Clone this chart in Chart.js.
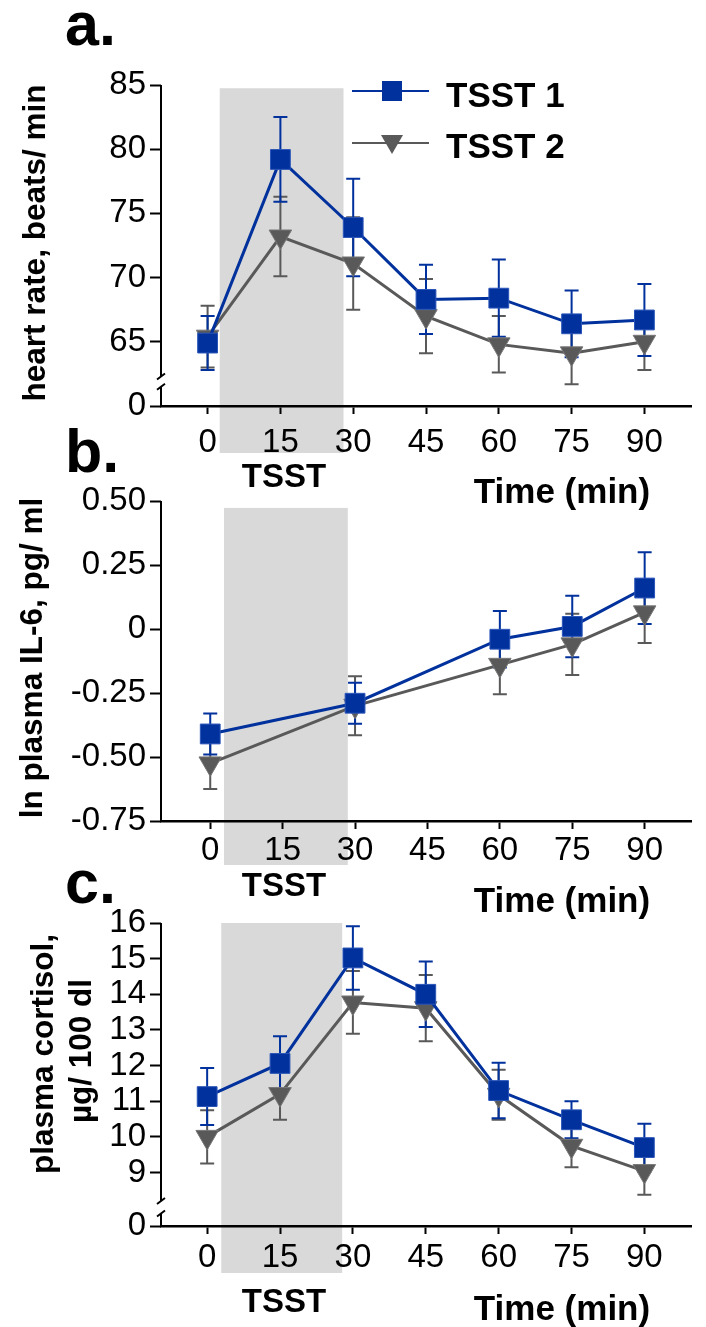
<!DOCTYPE html>
<html>
<head>
<meta charset="utf-8">
<script src="https://cdn.jsdelivr.net/npm/chart.js@4/dist/chart.umd.min.js"></script>
<style>
  body { margin: 0; background: #fff; }
  #wrap { position: relative; width: 706px; height: 1327px; overflow: hidden; }
  canvas { position: absolute; left: 0; }
</style>
</head>
<body>
<div id="wrap">
  <canvas id="chartA" width="706" height="510" style="top:0px"></canvas>
  <canvas id="chartB" width="706" height="525" style="top:400px"></canvas>
  <canvas id="chartC" width="706" height="477" style="top:850px"></canvas>
</div>
<script>
const times = [0, 15, 30, 45, 60, 75, 90];
const timesIL6 = [0, 30, 60, 75, 90];
const xTicks = [0, 15, 30, 45, 60, 75, 90];
const seriesNames = ["TSST 1", "TSST 2"];

// a. heart rate
const hrTsst1 = [64.9, 79.2, 73.9, 68.3, 68.4, 66.4, 66.7];
const hrTsst1Err = [2.1, 3.3, 3.8, 2.7, 3.0, 2.6, 2.8];
const hrTsst2 = [65.4, 73.2, 71.1, 67.0, 64.8, 64.1, 65.0];
const hrTsst2Err = [2.4, 3.1, 3.6, 2.9, 2.2, 2.4, 2.2];
const hrTicks = [60, 65, 70, 75, 80, 85];
const hrTickLabels = ["0", "65", "70", "75", "80", "85"];

// b. IL-6
const il6Tsst1 = [-0.41, -0.29, -0.04, 0.01, 0.16];
const il6Tsst1Err = [0.08, 0.08, 0.11, 0.12, 0.14];
const il6Tsst2 = [-0.525, -0.30, -0.14, -0.06, 0.065];
const il6Tsst2Err = [0.10, 0.115, 0.115, 0.12, 0.12];
const il6Ticks = [-0.75, -0.5, -0.25, 0, 0.25, 0.5];
const il6TickLabels = ["-0.75", "-0.50", "-0.25", "0", "0.25", "0.50"];

// c. cortisol
const cortTsst1 = [11.13, 12.06, 15.02, 14.0, 11.3, 10.48, 9.7];
const cortTsst1Err = [0.8, 0.76, 0.89, 0.92, 0.78, 0.52, 0.67];
const cortTsst2 = [10.0, 11.2, 13.77, 13.61, 11.18, 9.75, 9.04];
const cortTsst2Err = [0.75, 0.72, 0.88, 0.93, 0.7, 0.6, 0.66];
const cortTicks = [7.5, 9, 10, 11, 12, 13, 14, 15, 16];
const cortTickLabels = ["0", "9", "10", "11", "12", "13", "14", "15", "16"];

const BLUE = "#00319c";
const GRAY = "#595959";
const FONT = '"Liberation Sans", Arial, sans-serif';

function pts(xs, ys) {
  return xs.map((x, i) => ({ x: x, y: ys[i] }));
}

function makeDatasets(xs, y1, e1, y2, e2) {
  return [
    {
      label: seriesNames[0],
      data: pts(xs, y1),
      err: e1,
      borderColor: BLUE,
      backgroundColor: BLUE,
      borderWidth: 3,
      pointStyle: "rect",
      pointRadius: 14,
      pointHoverRadius: 14,
      pointBackgroundColor: BLUE,
      pointBorderColor: "#2a55b8",
      pointBorderWidth: 1,
      tension: 0,
    },
    {
      label: seriesNames[1],
      data: pts(xs, y2),
      err: e2,
      borderColor: GRAY,
      backgroundColor: GRAY,
      borderWidth: 3,
      pointStyle: "triangle",
      rotation: 180,
      pointRadius: 13,
      pointHoverRadius: 13,
      pointBackgroundColor: GRAY,
      pointBorderColor: "#777",
      pointBorderWidth: 1,
      tension: 0,
    },
  ];
}

// drawing helpers for things chart.js has no option for
const panelPlugin = {
  id: "panel",
  beforeDraw(chart, args, o) {
    const ctx = chart.ctx;
    const x = chart.scales.x, y = chart.scales.y;
    ctx.save();
    ctx.fillStyle = "#d9d9d9";
    const x0 = x.getPixelForValue(o.box[0]);
    const x1 = x.getPixelForValue(o.box[1]);
    const top = y.getPixelForValue(o.box[2]);
    ctx.fillRect(x0, top, x1 - x0, o.boxBottom - top);
    ctx.restore();
  },
  beforeDatasetsDraw(chart) {
    const ctx = chart.ctx;
    const x = chart.scales.x, y = chart.scales.y;
    ctx.save();
    chart.data.datasets.slice().reverse().forEach((ds) => {
      ctx.strokeStyle = ds.borderColor;
      ctx.lineWidth = 2;
      ds.data.forEach((p, i) => {
        const px = x.getPixelForValue(p.x);
        const hi = y.getPixelForValue(p.y + ds.err[i]);
        const lo = y.getPixelForValue(p.y - ds.err[i]);
        ctx.beginPath();
        ctx.moveTo(px, hi);
        ctx.lineTo(px, lo);
        ctx.moveTo(px - 7, hi);
        ctx.lineTo(px + 7, hi);
        ctx.moveTo(px - 7, lo);
        ctx.lineTo(px + 7, lo);
        ctx.stroke();
      });
    });
    ctx.restore();
  },
  afterDraw(chart, args, o) {
    const ctx = chart.ctx;
    const y = chart.scales.y;
    const ax = chart.chartArea.left;
    const top = chart.chartArea.top;
    const bottom = chart.chartArea.bottom;
    ctx.save();
    // y axis line, with a break if needed
    ctx.strokeStyle = "#000";
    ctx.lineWidth = 2;
    ctx.beginPath();
    if (o.brk) {
      const b0 = y.getPixelForValue(o.brk[0]);
      const b1 = y.getPixelForValue(o.brk[1]);
      ctx.moveTo(ax, top);
      ctx.lineTo(ax, b0);
      ctx.moveTo(ax, b1);
      ctx.lineTo(ax, bottom);
      ctx.moveTo(ax - 4, b0 + 3);
      ctx.lineTo(ax + 4, b0 - 3);
      ctx.moveTo(ax - 4, b1 + 3);
      ctx.lineTo(ax + 4, b1 - 3);
    } else {
      ctx.moveTo(ax, top);
      ctx.lineTo(ax, bottom);
    }
    ctx.stroke();

    ctx.fillStyle = "#000";
    // panel letter
    ctx.font = "bold 61px " + FONT;
    ctx.textAlign = "left";
    ctx.textBaseline = "alphabetic";
    ctx.fillText(o.letter, 65, o.letterY);

    // axis titles
    ctx.font = "bold 33px " + FONT;
    ctx.textAlign = "center";
    ctx.fillText("TSST", 284, o.tsstY);
    ctx.font = "bold 35px " + FONT;
    ctx.fillText("Time (min)", 562, o.timeY);

    ctx.font = "bold 31.5px " + FONT;
    ctx.textBaseline = "middle";
    o.titles.forEach((t) => {
      ctx.save();
      ctx.translate(t[1], t[2]);
      ctx.rotate(-Math.PI / 2);
      ctx.fillText(t[0], 0, 0);
      ctx.restore();
    });

    // legend
    if (o.legend) {
      const rows = [[91, 107], [143, 158]];
      chart.data.datasets.forEach((ds, i) => {
        const ly = rows[i][0];
        ctx.strokeStyle = ds.borderColor;
        ctx.lineWidth = 2;
        ctx.beginPath();
        ctx.moveTo(352, ly);
        ctx.lineTo(429, ly);
        ctx.stroke();
        ctx.fillStyle = ds.backgroundColor;
        if (i === 0) {
          ctx.fillRect(382, ly - 10, 20, 20);
        } else {
          ctx.beginPath();
          ctx.moveTo(381, ly - 8);
          ctx.lineTo(403, ly - 8);
          ctx.lineTo(392, ly + 11);
          ctx.closePath();
          ctx.fill();
        }
        ctx.fillStyle = "#000";
        ctx.font = "bold 35px " + FONT;
        ctx.textAlign = "left";
        ctx.textBaseline = "alphabetic";
        ctx.fillText(ds.label, 446, rows[i][1]);
      });
    }
    ctx.restore();
  },
};

function makePanel(id, p) {
  const canvas = document.getElementById(id);
  const H = canvas.height;
  return new Chart(canvas, {
    type: "line",
    data: { datasets: p.datasets },
    plugins: [panelPlugin],
    options: {
      responsive: false,
      animation: false,
      events: [],
      layout: { padding: { left: 0, right: 6, top: p.areaTop, bottom: 0 } },
      plugins: {
        legend: { display: false },
        tooltip: { enabled: false },
        panel: p.panel,
      },
      scales: {
        x: {
          type: "linear",
          min: p.xMin,
          max: p.xMax,
          afterBuildTicks: (s) => {
            s.ticks = xTicks.map((v) => ({ value: v }));
          },
          afterFit: (s) => {
            s.height = H - p.areaBottom;
          },
          ticks: {
            color: "#000",
            font: { size: 33, family: FONT },
            padding: p.xPad,
            maxRotation: 0,
            autoSkip: false,
          },
          grid: {
            drawOnChartArea: false,
            drawTicks: true,
            tickLength: 8,
            tickWidth: 2,
            tickColor: "#000",
          },
          border: { display: true, color: "#000", width: 2.5 },
        },
        y: {
          type: "linear",
          min: p.yTicks[0],
          max: p.yTicks[p.yTicks.length - 1],
          afterBuildTicks: (s) => {
            s.ticks = p.yTicks.map((v) => ({ value: v }));
          },
          afterFit: (s) => {
            s.width = 161;
          },
          ticks: {
            color: "#000",
            font: { size: 33, family: FONT },
            padding: 4,
            autoSkip: false,
            callback: (v) => p.yLabels[p.yTicks.indexOf(v)],
          },
          grid: {
            drawOnChartArea: false,
            drawTicks: true,
            tickLength: 11,
            tickWidth: 2,
            tickColor: "#000",
          },
          border: { display: false },
        },
      },
    },
  });
}

makePanel("chartA", {
  datasets: makeDatasets(times, hrTsst1, hrTsst1Err, hrTsst2, hrTsst2Err),
  xMin: -9.6, xMax: 99.6,
  yTicks: hrTicks, yLabels: hrTickLabels,
  areaTop: 85, areaBottom: 406, xPad: 9,
  panel: {
    box: [2.5, 28, 84.75], boxBottom: 453,
    brk: [62.3, 61.5],
    letter: "a.", letterY: 45,
    tsstY: 487, timeY: 503,
    titles: [["heart rate, beats/ min", 36, 243]],
    legend: true,
  },
});

makePanel("chartB", {
  datasets: makeDatasets(timesIL6, il6Tsst1, il6Tsst1Err, il6Tsst2, il6Tsst2Err),
  xMin: -10.2, xMax: 99.6,
  yTicks: il6Ticks, yLabels: il6TickLabels,
  areaTop: 101, areaBottom: 421, xPad: 2,
  panel: {
    box: [2.85, 28.5, 0.473], boxBottom: 465,
    brk: null,
    letter: "b.", letterY: 72,
    tsstY: 496, timeY: 512,
    titles: [["ln plasma IL-6, pg/ ml", 33, 258]],
    legend: false,
  },
});

makePanel("chartC", {
  datasets: makeDatasets(times, cortTsst1, cortTsst1Err, cortTsst2, cortTsst2Err),
  xMin: -9.5, xMax: 99.6,
  yTicks: cortTicks, yLabels: cortTickLabels,
  areaTop: 73, areaBottom: 376, xPad: 4,
  panel: {
    box: [2.9, 27.8, 16], boxBottom: 423,
    brk: [8.2, 7.85],
    letter: "c.", letterY: 53,
    tsstY: 462, timeY: 470,
    titles: [["plasma cortisol,", 44, 204], ["\u00b5g/ 100 dl", 82, 201]],
    legend: false,
  },
});
</script>
</body>
</html>
